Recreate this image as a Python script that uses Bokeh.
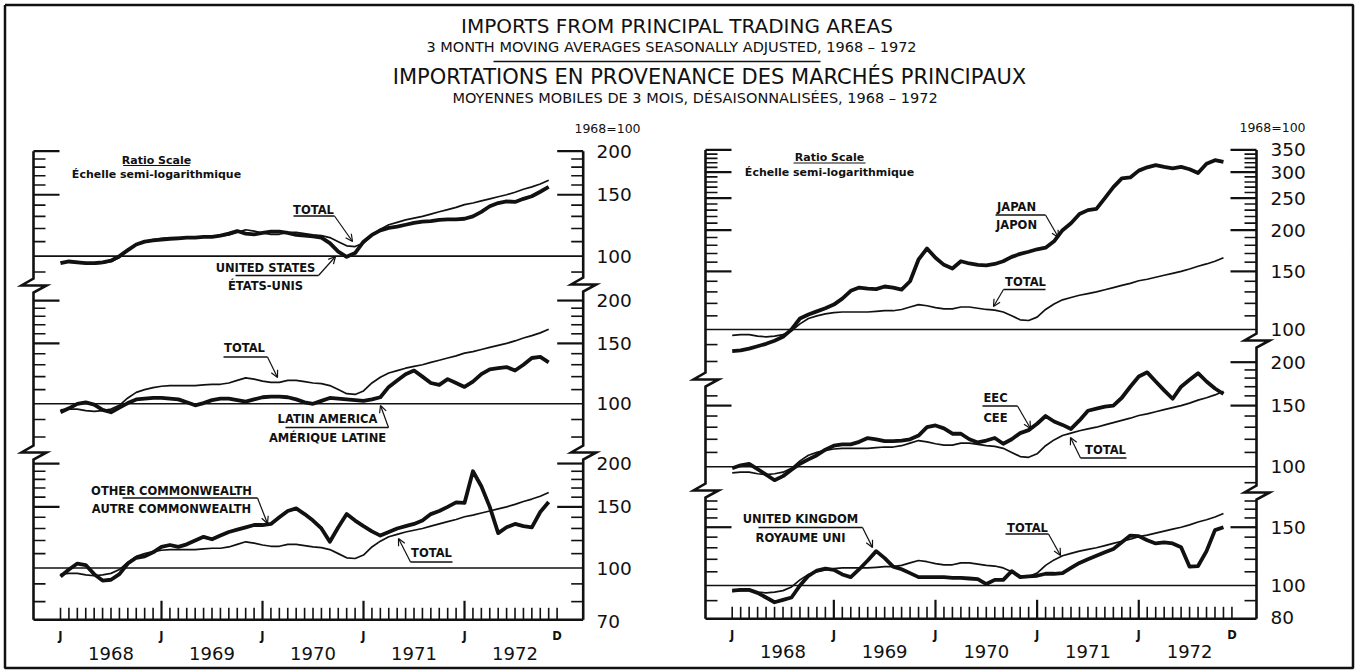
import math
from bokeh.plotting import figure
from bokeh.models import Range1d, LogScale, LinearScale, Arrow, OpenHead
from bokeh.embed import file_html
from bokeh.resources import INLINE
from bokeh.core.properties import value

# ---------------- data (3-month moving averages, 1968 = 100) ----------------
# month index: 0 = Jan 1968 ... 58 = Nov 1972
months = list(range(59))

total = [96, 96.5, 96.5, 95.5, 95, 95.5, 96.5, 99, 104, 108,
         110, 111.5, 112.5, 113, 113, 113, 113, 113.5, 114, 114,
         115, 117, 119, 118, 116.5, 115.5, 115.5, 117, 117, 116,
         115, 114.5, 113, 110, 107, 106.5, 109, 115, 119.5, 123,
         125, 127, 128.5, 130, 132, 134, 136, 138, 140.5, 142,
         144, 146, 148, 150, 152.5, 155.5, 158, 161, 165]

united_states = [95.5, 96.5, 96, 95.5, 95.5, 96, 97, 100, 104, 108,
                 110, 111, 111.5, 112, 112.5, 113, 113, 113.5, 113.5, 114.5,
                 116, 118, 116, 115.5, 116.5, 117.5, 117.5, 116.5, 115, 114.5,
                 114, 113, 109, 103, 99.5, 102, 110, 115, 118.5, 120.5,
                 121.5, 123, 124.5, 125.5, 126, 127, 127.5, 127.5, 128, 130,
                 134, 139, 142, 143.5, 143, 146, 148.5, 153, 158]

latin_america = [94.5, 97, 100, 101, 99.5, 96, 94.5, 97.5, 100.5, 103,
                 103.5, 104, 104, 103.5, 103, 101, 99, 100.5, 102.5, 103.5,
                 103.5, 102.5, 101.5, 103, 104.5, 105, 105, 104.5, 103, 101,
                 100, 102, 104, 103.5, 103, 102.5, 102, 103, 104.5, 112,
                 117, 122, 125, 120, 115, 113.5, 118, 115, 112, 116,
                 122, 126, 127, 128, 125, 130, 136, 137, 132]

other_commonwealth = [94.5, 99, 103, 102, 96, 92, 92.5, 96, 103, 107,
                      108, 111, 115, 116.5, 115, 117, 120, 123, 121, 124,
                      127, 129, 131, 133, 133, 134, 140, 146, 148.5, 143,
                      137, 130, 119, 131, 143, 137, 132, 127.5, 124, 127,
                      130, 132, 134, 137, 143, 146, 150, 154.5, 154, 190,
                      172, 150, 126, 131, 134, 132, 131, 145, 155]

japan = [86, 86.5, 87.5, 89, 90.5, 92.5, 95, 100, 108, 111,
         113.5, 116, 119, 124, 131, 134, 133, 132.5, 135, 134,
         132, 140, 163, 176, 165, 157, 153, 161, 158.5, 157,
         156.5, 158, 161, 166, 169.5, 172, 175, 177, 185, 200,
         210, 224, 230, 232, 250, 270, 287, 289, 303, 310,
         315, 311, 308, 311, 306, 298, 318, 326, 322]

eec = [99, 101, 102, 98.5, 95, 91.5, 94, 98, 102, 105,
       108, 112, 115, 116, 116, 118, 121, 120, 118.5, 118.5,
       119, 120, 123, 130, 131.5, 129, 124.5, 124.5, 120, 117.5,
       119, 121, 116.5, 120, 125, 127.5, 133, 140, 135, 132,
       128.5, 136, 145, 147, 149, 150, 158, 170, 182, 187,
       176, 166, 157, 170, 178, 186, 176, 168, 162]

united_kingdom = [96.5, 97, 97, 95, 92, 89, 90.5, 92, 100, 107,
                  111, 112.5, 111.5, 108, 106, 112, 119, 127, 121, 114,
                  112, 109, 106, 106, 106, 106, 105.5, 105.5, 105, 104.5,
                  101, 104, 104, 110.5, 106, 106.5, 107, 108.5, 108.5, 109,
                  113, 117, 120, 123, 126, 129, 135, 141.5, 141, 137,
                  134, 135, 134, 130.5, 114, 114.5, 127, 147, 150]

month_ticks = list(range(60))          # Jan 1968 .. Dec 1972
jan_months = [0, 12, 24, 36, 48]
dec_months = [59]
year_mid = [6, 18, 30, 42, 54]
year_labels = ["1968", "1969", "1970", "1971", "1972"]

value_labels = {
    "L1": ["200", "150", "100"],
    "L2": ["200", "150", "100"],
    "L3": ["200", "150", "100", "70"],
    "R1": ["350", "300", "250", "200", "150", "100"],
    "R2": ["200", "150", "100"],
    "R3": ["150", "100", "80"],
}

title_lines = [
    "IMPORTS FROM PRINCIPAL TRADING AREAS",
    "3 MONTH MOVING AVERAGES SEASONALLY ADJUSTED, 1968 \u2013 1972",
    "IMPORTATIONS EN PROVENANCE DES MARCH\u00c9S PRINCIPAUX",
    "MOYENNES MOBILES DE 3 MOIS, D\u00c9SAISONNALIS\u00c9ES, 1968 \u2013 1972",
]

# ---------------- layout (page pixel coordinates) ----------------
W, H = 1363, 672
OX, OY = 0, 0
FONT = value("DejaVu Sans")

SIDE = {
    "L": dict(x0=60.0, dx=8.417, axl=33.0, axr=582.7, xaxis=619.3, lab=596.0, jy=635.0, yy=653.0, base="1968=100", bx=607.0, by=128.0),
    "R": dict(x0=731.7, dx=8.47, axl=705.0, axr=1256.0, xaxis=618.3, lab=1270.0, jy=634.0, yy=651.0, base="1968=100", bx=1272.0, by=127.0),
}
PANEL = {
    "L1": dict(side="L", p100=255.6, k=348.5),
    "L2": dict(side="L", p100=403.3, k=343.0),
    "L3": dict(side="L", p100=567.5, k=347.0),
    "R1": dict(side="R", p100=329.0, k=330.0),
    "R2": dict(side="R", p100=466.3, k=347.5),
    "R3": dict(side="R", p100=585.0, k=331.0),
}


def ypx(name, v):
    d = PANEL[name]
    return d["p100"] - d["k"] * math.log10(v / 100.0)


p = figure(width=W, height=H, output_backend="svg", toolbar_location=None,
           x_range=Range1d(OX, OX + W), y_range=Range1d(OY + H, OY),
           x_axis_type=None, y_axis_type=None, min_border=0,
           outline_line_color=None, background_fill_color="white",
           border_fill_color="white")
p.grid.visible = False

p.extra_x_ranges = {s: Range1d((OX - d["x0"]) / d["dx"], (OX + W - d["x0"]) / d["dx"]) for s, d in SIDE.items()}
p.extra_x_scales = {s: LinearScale() for s in SIDE}
p.extra_y_ranges = {n: Range1d(100 * 10 ** ((d["p100"] - (OY + H)) / d["k"]),
                               100 * 10 ** ((d["p100"] - OY) / d["k"])) for n, d in PANEL.items()}
p.extra_y_scales = {n: LogScale() for n in PANEL}

INK = "#111111"

# border
p.line([4.5, 1352.5, 1352.5, 4.5, 4.5], [4.5, 4.5, 667.5, 667.5, 4.5], line_color=INK, line_width=2.5)

# titles
title_pos = [(676.5, 25.0, "20px"), (671.0, 46.0, "14.5px"), (709.0, 76.5, "21px"), (694.5, 97.0, "14.5px")]
for (tx, ty, fs), t in zip(title_pos, title_lines):
    p.text(x=[tx], y=[ty], text=[t], text_font=FONT, text_font_size=fs, text_color=INK,
           text_align="center", text_baseline="middle")
p.line([493, 820], [61, 61], line_color=INK, line_width=1.3)

# ---------------- axes ----------------
AXES = [
    dict(side="L", x=33.0, top=ypx("L1", 200), bottom=619.3, breaks=[285, 452]),
    dict(side="L", x=582.7, top=ypx("L1", 200), bottom=619.3, breaks=[284, 452]),
    dict(side="R", x=705.0, top=ypx("R1", 350), bottom=618.3, breaks=[379, 490]),
    dict(side="R", x=1256.0, top=ypx("R1", 350), bottom=618.3, breaks=[340, 492]),
]
for a in AXES:
    xs, ys = [a["x"]], [a["top"]]
    for yc in a["breaks"]:
        h = 7
        xs += [a["x"], a["x"] - 12, a["x"] + 13, a["x"]]
        ys += [yc - h, yc, yc, yc + h]
    xs.append(a["x"])
    ys.append(a["bottom"])
    p.line(xs, ys, line_color=INK, line_width=2.6, line_join="miter")

TICKS = {
    ("L1", 0): range(90, 201, 10), ("L1", 1): range(90, 201, 10),
    ("L2", 0): range(80, 201, 10), ("L2", 1): range(80, 201, 10),
    ("L3", 0): range(80, 201, 10), ("L3", 1): range(80, 201, 10),
    ("R1", 0): range(80, 351, 10), ("R1", 1): range(100, 351, 10),
    ("R2", 0): range(100, 161, 10), ("R2", 1): range(90, 201, 10),
    ("R3", 0): range(90, 181, 10), ("R3", 1): range(90, 181, 10),
}
LONG = {150, 200, 250, 300, 350}
for (name, right), vals in TICKS.items():
    side = SIDE[PANEL[name]["side"]]
    ax = side["axr"] if right else side["axl"]
    d = -1 if right else 1
    short = [v for v in vals if v not in LONG and v != 100]
    long_ = [v for v in vals if v in LONG]
    p.segment(x0=[ax] * len(short), x1=[ax + d * 12] * len(short), y0=short, y1=short,
              y_range_name=name, line_color=INK, line_width=1.6)
    p.segment(x0=[ax] * len(long_), x1=[ax + d * 26] * len(long_), y0=long_, y1=long_,
              y_range_name=name, line_color=INK, line_width=2.2)

# 100 reference lines, value labels
for name, d in PANEL.items():
    side = SIDE[d["side"]]
    p.segment(x0=[side["axl"]], x1=[side["axr"]], y0=[100], y1=[100], y_range_name=name,
              line_color=INK, line_width=1.6)
    labs = value_labels[name]
    p.text(x=[side["lab"]] * len(labs), y=[float(t) for t in labs], text=labs, y_range_name=name,
           text_font=FONT, text_font_size="18.5px", text_color=INK, text_align="left",
           text_baseline="middle")

# x axes
for s, d in SIDE.items():
    p.segment(x0=[d["axl"]], x1=[d["axr"]], y0=[d["xaxis"]], y1=[d["xaxis"]], line_color=INK, line_width=2.6)
    reg = [m for m in month_ticks if m not in jan_months[1:]]
    p.segment(x0=reg, x1=reg, y0=[d["xaxis"]] * len(reg), y1=[d["xaxis"] - 12] * len(reg),
              x_range_name=s, line_color=INK, line_width=1.6)
    big = jan_months[1:]
    p.segment(x0=big, x1=big, y0=[d["xaxis"]] * len(big), y1=[d["xaxis"] - 19] * len(big),
              x_range_name=s, line_color=INK, line_width=2.2)
    p.text(x=jan_months + dec_months, y=[d["jy"]] * 6, text=["J"] * 5 + ["D"], x_range_name=s,
           text_font=FONT, text_font_size="11.5px", text_font_style="bold", text_color=INK,
           text_align="center", text_baseline="middle")
    p.text(x=year_mid, y=[d["yy"]] * 5, text=year_labels, x_range_name=s,
           text_font=FONT, text_font_size="18px", text_color=INK, text_align="center",
           text_baseline="middle")
    p.text(x=[d["bx"]], y=[d["by"]], text=[d["base"]], text_font=FONT, text_font_size="12.5px",
           text_color=INK, text_align="center", text_baseline="middle")

# ---------------- series ----------------
SERIES = [("L1", united_states), ("L2", latin_america), ("L3", other_commonwealth),
          ("R1", japan), ("R2", eec), ("R3", united_kingdom)]
for name, s in SERIES:
    side = PANEL[name]["side"]
    p.line(months, total, x_range_name=side, y_range_name=name, line_color=INK, line_width=1.7,
           line_join="round")
    p.line(months, s, x_range_name=side, y_range_name=name, line_color=INK, line_width=3.8,
           line_join="round")

# ---------------- annotations ----------------
def label(lines, cx, ys, fs="11.5px"):
    p.text(x=[cx] * len(lines), y=ys, text=lines, text_font=FONT, text_font_size=fs,
           text_font_style="bold", text_color=INK, text_align="center", text_baseline="middle")


def leader(ux0, ux1, uy, tx, ty, start_right=True):
    p.line([ux0, ux1], [uy, uy], line_color=INK, line_width=1.3)
    sx = ux1 if start_right else ux0
    p.add_layout(Arrow(end=OpenHead(size=7, line_width=1.2, line_color=INK), x_start=sx, y_start=uy,
                       x_end=tx, y_end=ty, line_width=1.2, line_color=INK))


# left side
label(["TOTAL"], 313, [209])
leader(293, 334, 215.5, 352, 241)
label(["UNITED STATES", "\u00c9TATS-UNIS"], 265, [267.5, 285.5])
leader(235, 318, 275, 335, 256)
label(["TOTAL"], 244, [347.5])
leader(223, 267, 356.5, 277, 377)
label(["LATIN AMERICA", "AM\u00c9RIQUE LATINE"], 327, [418, 437.5])
leader(285, 388, 427, 380, 405, True)
label(["OTHER COMMONWEALTH", "AUTRE COMMONWEALTH"], 171, [490, 508.5])
leader(122, 257, 497.5, 267, 523)
label(["TOTAL"], 431, [552])
leader(410, 452, 561.5, 398, 538, False)
# right side
label(["JAPAN", "JAPON"], 1016, [206.5, 224.5])
leader(995, 1045, 214.5, 1058, 237)
label(["TOTAL"], 1025, [281.5])
leader(1003, 1045, 289, 993, 306, False)
label(["EEC", "CEE"], 995, [397.5, 417])
leader(982, 1017, 405.5, 1030, 428)
label(["TOTAL"], 1105, [449])
leader(1080, 1126, 457.5, 1070, 437, False)
label(["UNITED KINGDOM", "ROYAUME UNI"], 800, [518, 537])
leader(758, 862, 527, 872, 547)
label(["TOTAL"], 1027, [527])
leader(1005, 1048, 533.5, 1060, 555)

# ratio scale notes
for cx, y1, y2, u0, u1, uy in [(156, 159.5, 174, 122.7, 189.3, 165), (829, 156.5, 172, 793, 865, 162.5)]:
    p.text(x=[cx], y=[y1], text=["Ratio Scale"], text_font=FONT, text_font_size="11px",
           text_font_style="bold", text_color=INK, text_align="center", text_baseline="middle")
    p.line([u0, u1], [uy, uy], line_color=INK, line_width=1.2)
    p.text(x=[cx], y=[y2], text=["\u00c9chelle semi-logarithmique"], text_font=FONT, text_font_size="11px",
           text_font_style="bold", text_color=INK, text_align="center", text_baseline="middle")

open("out.html", "w").write(file_html(p, INLINE))
